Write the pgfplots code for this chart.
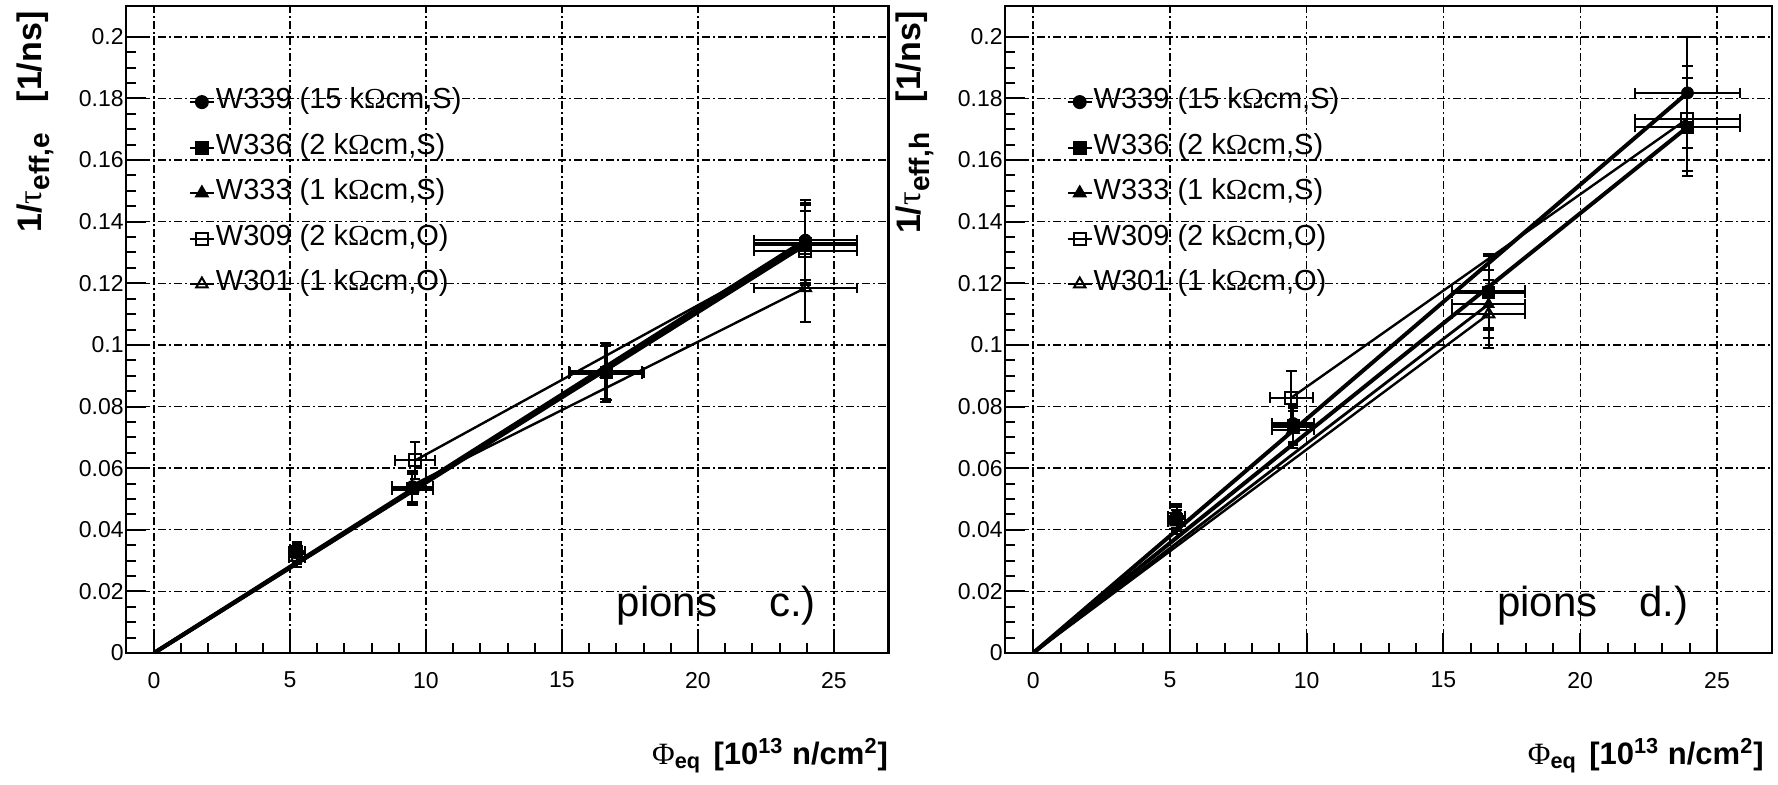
\documentclass[border=0pt]{standalone}
\usepackage{fontspec}
\setmainfont{Liberation Sans}
\newfontfamily\symfont{Liberation Serif}
\usepackage{graphicx}
\usepackage{pgfplots}
\pgfplotsset{compat=1.18}
\usepackage{pgfplotstable}

% ---------- electrons (panel c) ----------
\pgfplotstableread{
x y ex ey
5.25 0.0325 0.3 0.003
9.5 0.0540 0.75 0.005
16.6 0.0915 1.35 0.009
23.95 0.1340 1.9 0.013
}\eA
\pgfplotstableread{
x y ex ey
5.25 0.0330 0.3 0.003
9.5 0.0535 0.75 0.005
16.65 0.0910 1.35 0.009
23.95 0.1330 1.9 0.013
}\eB
\pgfplotstableread{
x y ex ey
5.25 0.0320 0.3 0.003
9.5 0.0530 0.75 0.005
16.6 0.0905 1.35 0.009
23.95 0.1325 1.9 0.013
}\eC
\pgfplotstableread{
x y ex ey
9.6 0.0625 0.75 0.006
23.95 0.1305 1.9 0.013
}\eD
\pgfplotstableread{
x y ex ey
5.25 0.0310 0.3 0.003
9.5 0.0535 0.75 0.005
23.95 0.1185 1.9 0.011
}\eE

% ---------- holes (panel d) ----------
\pgfplotstableread{
x y ex ey
5.24 0.0445 0.3 0.004
9.5 0.0745 0.78 0.006
16.65 0.1176 1.34 0.012
23.92 0.1818 1.92 0.018
}\hA
\pgfplotstableread{
x y ex ey
5.24 0.0435 0.3 0.004
9.5 0.0740 0.78 0.006
16.65 0.1170 1.34 0.012
23.92 0.1707 1.92 0.016
}\hB
\pgfplotstableread{
x y ex ey
5.24 0.0440 0.3 0.004
9.5 0.0735 0.78 0.006
16.65 0.1132 1.34 0.011
}\hC
\pgfplotstableread{
x y ex ey
9.44 0.0829 0.78 0.0085
23.92 0.1734 1.92 0.017
}\hD
\pgfplotstableread{
x y ex ey
5.24 0.0425 0.3 0.004
9.5 0.0725 0.78 0.006
16.65 0.1100 1.34 0.011
}\hE

\pgfplotsset{
  rootpanel/.style={
    scale only axis, height=323.5pt,
    xmin=-1.03, xmax=27, ymin=0, ymax=0.21,
    xtick={0,5,10,15,20,25},
    ytick={0,0.02,0.04,0.06,0.08,0.1,0.12,0.14,0.16,0.18,0.2},
    minor x tick num=4, minor y tick num=3,
    tick pos=left, tick align=inside,
    major tick length=10pt, minor tick length=5pt,
    every tick/.style={black, line width=1pt},
    grid=major,
    major grid style={black, line width=0.7pt, dash pattern=on 4pt off 1.5pt on 1pt off 1.5pt},
    axis line style={line width=1.2pt},
    scaled y ticks=false, scaled x ticks=false,
    yticklabel style={/pgf/number format/fixed, /pgf/number format/precision=2, inner sep=1pt},
    xticklabel style={yshift=-6pt},
    /pgf/number format/assume math mode=true,
    tick label style={font=\fontsize{11.5}{13}\selectfont},
    legend image code/.code={\draw[mark repeat=2,mark phase=2,##1] plot coordinates {(0pt,0pt) (6pt,0pt) (12pt,0pt)};},
    legend style={draw=none, fill=none, anchor=north west, inner xsep=0pt, inner ysep=0pt,
      font=\fontsize{14.5}{16}\selectfont, row sep=8.25pt,
      nodes={inner sep=0.5pt, text height=10pt, text depth=3.5pt},
      cells={anchor=west}},
    legend cell align=left,
    x label style={anchor=base east, inner sep=0pt, font=\fontsize{15.5}{17}\selectfont\bfseries},
    y label style={anchor=base east, inner sep=0pt, font=\fontsize{17}{19}\selectfont\bfseries},
  },
  errs/.style={error bars/.cd, x dir=both, x explicit, y dir=both, y explicit,
    error bar style={line width=1pt, solid},
    error mark options={rotate=90, mark size=2.6pt, line width=1pt}},
}

\begin{document}
\begin{tikzpicture}
\useasboundingbox (0,0) rectangle (889pt,392pt);

% ================= panel c =================
\begin{axis}[rootpanel, width=381.15pt, at={(63pt,65.5pt)}, anchor=south west,
  legend style={at={(axis description cs:0.082,0.8745)}},
  xlabel={{\symfont\mdseries Φ}\textsubscript{eq}\hspace{0.4em}[10\textsuperscript{13} n/cm\textsuperscript{2}]},
  x label style={at={(axis description cs:1,-0.1716)}},
  ylabel={1/{\symfont\mdseries τ}\raisebox{-0.5ex}{\fontsize{14}{15}\selectfont eff,e}\hspace{0.9em}[1/ns]},
  y label style={at={(axis description cs:-0.1115,0.992)}},
]
\addlegendimage{line width=1pt, mark=*, mark size=3pt}
\addlegendentry{W339 (15 k{\symfont Ω}cm,S)}
\addlegendimage{line width=1pt, mark=square*, mark size=3pt}
\addlegendentry{W336 (2 k{\symfont Ω}cm,S)}
\addlegendimage{line width=1pt, mark=triangle*, mark size=3.3pt}
\addlegendentry{W333 (1 k{\symfont Ω}cm,S)}
\addlegendimage{line width=1pt, mark=square, mark size=3pt}
\addlegendentry{W309 (2 k{\symfont Ω}cm,O)}
\addlegendimage{line width=1pt, mark=triangle, mark size=3.3pt}
\addlegendentry{W301 (1 k{\symfont Ω}cm,O)}

\addplot[no marks, line width=2pt, forget plot] coordinates {(0,0) (23.95,0.134)};
\addplot[no marks, line width=2pt, forget plot] coordinates {(0,0) (23.95,0.133)};
\addplot[no marks, line width=2pt, forget plot] coordinates {(0,0) (23.95,0.1325)};
\addplot[no marks, line width=1.2pt, forget plot] coordinates {(9.6,0.0625) (23.95,0.132)};
\addplot[no marks, line width=1.2pt, forget plot] coordinates {(9.5,0.0545) (23.95,0.1185)};

\addplot[only marks, mark=*, mark size=3pt, forget plot, errs] table[x=x,y=y,x error=ex,y error=ey]{\eA};
\addplot[only marks, mark=square*, mark size=3pt, forget plot, errs] table[x=x,y=y,x error=ex,y error=ey]{\eB};
\addplot[only marks, mark=triangle*, mark size=3.3pt, forget plot, errs] table[x=x,y=y,x error=ex,y error=ey]{\eC};
\addplot[only marks, mark=square, mark size=3pt, mark options={line width=1pt}, forget plot, errs] table[x=x,y=y,x error=ex,y error=ey]{\eD};
\addplot[only marks, mark=triangle, mark size=3.3pt, mark options={line width=1pt}, forget plot, errs] table[x=x,y=y,x error=ex,y error=ey]{\eE};

\node[anchor=base west, font=\fontsize{21}{24}\selectfont, inner sep=0pt] at (axis cs:17.0,0.0117) {pions};
\node[anchor=base west, font=\fontsize{21}{24}\selectfont, inner sep=0pt] at (axis cs:22.6,0.0117) {c.)};
\end{axis}

% ================= panel d =================
\begin{axis}[rootpanel, width=383.35pt, at={(502.5pt,65.5pt)}, anchor=south west,
  legend style={at={(axis description cs:0.080,0.8745)}},
  xlabel={{\symfont\mdseries Φ}\textsubscript{eq}\hspace{0.4em}[10\textsuperscript{13} n/cm\textsuperscript{2}]},
  x label style={at={(axis description cs:0.99,-0.1716)}},
  ylabel={1/{\symfont\mdseries τ}\raisebox{-0.5ex}{\fontsize{14}{15}\selectfont eff,h}\hspace{0.9em}[1/ns]},
  y label style={at={(axis description cs:-0.1096,0.992)}},
]
\addlegendimage{line width=1pt, mark=*, mark size=3pt}
\addlegendentry{W339 (15 k{\symfont Ω}cm,S)}
\addlegendimage{line width=1pt, mark=square*, mark size=3pt}
\addlegendentry{W336 (2 k{\symfont Ω}cm,S)}
\addlegendimage{line width=1pt, mark=triangle*, mark size=3.3pt}
\addlegendentry{W333 (1 k{\symfont Ω}cm,S)}
\addlegendimage{line width=1pt, mark=square, mark size=3pt}
\addlegendentry{W309 (2 k{\symfont Ω}cm,O)}
\addlegendimage{line width=1pt, mark=triangle, mark size=3.3pt}
\addlegendentry{W301 (1 k{\symfont Ω}cm,O)}

\addplot[no marks, line width=2pt, forget plot] coordinates {(0,0) (23.92,0.1818)};
\addplot[no marks, line width=2pt, forget plot] coordinates {(0,0) (23.92,0.1707)};
\addplot[no marks, line width=1.4pt, forget plot] coordinates {(0,0) (16.65,0.1132)};
\addplot[no marks, line width=1.2pt, forget plot] coordinates {(9.44,0.0829) (23.92,0.1734)};
\addplot[no marks, line width=1.2pt, forget plot] coordinates {(0,0) (16.65,0.1100)};

\addplot[only marks, mark=*, mark size=3pt, forget plot, errs] table[x=x,y=y,x error=ex,y error=ey]{\hA};
\addplot[only marks, mark=square*, mark size=3pt, forget plot, errs] table[x=x,y=y,x error=ex,y error=ey]{\hB};
\addplot[only marks, mark=triangle*, mark size=3.3pt, forget plot, errs] table[x=x,y=y,x error=ex,y error=ey]{\hC};
\addplot[only marks, mark=square, mark size=3pt, mark options={line width=1pt}, forget plot, errs] table[x=x,y=y,x error=ex,y error=ey]{\hD};
\addplot[only marks, mark=triangle, mark size=3.3pt, mark options={line width=1pt}, forget plot, errs] table[x=x,y=y,x error=ex,y error=ey]{\hE};

\node[anchor=base west, font=\fontsize{21}{24}\selectfont, inner sep=0pt] at (axis cs:16.95,0.0117) {pions};
\node[anchor=base west, font=\fontsize{21}{24}\selectfont, inner sep=0pt] at (axis cs:22.14,0.0117) {d.)};
\end{axis}
\end{tikzpicture}
\end{document}
